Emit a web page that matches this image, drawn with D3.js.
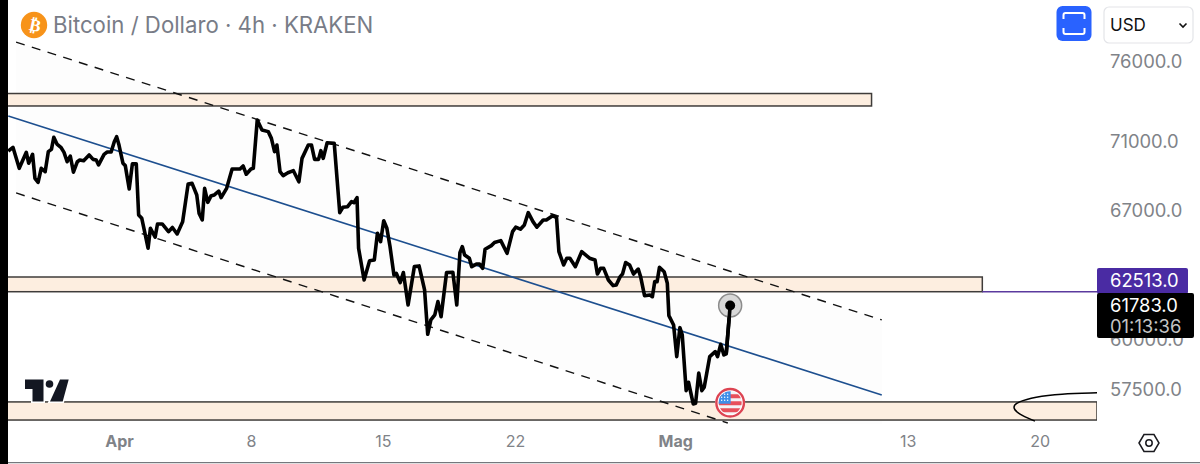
<!DOCTYPE html>
<html>
<head>
<meta charset="utf-8">
<script src="https://cdn.jsdelivr.net/npm/d3@7"></script>
<style>
  html, body { margin: 0; background: #fff; }
  svg { display: block; font-family: Inter, "Noto Sans", sans-serif; }
  .tick text { fill: #808388; }
</style>
</head>
<body>
<div id="chart"></div>
<script>
// time is in hours since 1 April, price in USD
const hours = [-141,-135,-127,-118,-115,-110,-107,-103,-99,-94,-90,-86,-83,-79,-74,-70,-66,-62,-58,-53,-50,-45,-38,-33,-29,-26,-19,-15,-10,-6,-3,0,5,8,13,17,22,25,29,33,37,40,46,49,55,63,68,74,81,88,93,99,102,106,109,113,117,121,127,130,137,144,148,154,158,162,168,171,176,182,190,194,198,201,205,209,215,222,229,233,241,245,249,254,257,260,265,274,281,285,291,296,299,303,305,312,319,325,329,333,337,341,345,350,353,358,362,368,376,382,389,393,397,402,406,410,417,425,430,434,437,440,446,449,455,459,463,466,474,478,486,494,501,505,511,516,521,527,532,540,544,552,557,560,566,570,574,581,589,599,606,609,613,617,623,629,633,638,641,645,650,655,661,664,669,676,679,682,685,688,694,698,700,706,710,714,717,722,725,731,734,738,742,745,752,759,762,766,770,773,778];
const closes = [70460,70680,69430,70380,69730,70260,68840,68610,69430,69230,70420,70560,71290,70880,70680,70380,69820,70160,69200,69820,69920,69880,70220,69960,69920,69630,70260,70400,70400,71020,71320,70820,69730,69590,68220,69690,69690,66730,66540,65700,64870,65980,65480,66220,66220,65790,66020,65660,66350,68510,68550,67870,66810,66445,68260,67450,67810,67870,68100,67720,68260,69390,69390,69390,69570,69080,69390,69430,72343,71730,71630,71220,70420,70820,69230,69000,69170,69290,68640,70020,70820,70820,69960,69960,70480,70020,70960,70920,66860,67170,67200,67490,67430,67720,64870,63140,64185,64220,65700,65230,66405,65980,64960,63410,63500,63000,63540,61815,63860,63900,62610,60290,61030,61290,61990,61200,63540,63560,61815,64620,64960,64500,64320,63860,64000,64000,63770,64810,65010,65180,65290,64590,65790,66040,65925,66165,66860,66350,66040,66445,66445,66690,66575,64680,63950,64320,64320,63860,64680,64320,64220,63460,63770,63770,63140,62840,62875,63320,63460,64080,63950,63460,63730,63320,62300,62340,62250,63050,63050,63820,63580,62965,61255,60770,59155,60630,60260,57470,57880,56820,56850,58330,57470,57640,59155,59410,59155,59780,59240,59290,61783];

const priceTicks = [76000, 71000, 67000, 60000, 57500];
const timeTicks = [0, 168, 336, 504, 708, 1004, 1172];
const timeLabels = ["Apr", "8", "15", "22", "Mag", "13", "20"];

// support / resistance boxes
const zoneTops = [73990, 63300, 56920];
const zoneBottoms = [73210, 62513, 56050];
const zoneEnds = [958, 1099, 1245];

// regression channel, [hour, price] at each end
const upperBand = [[-131, 77300], [971, 61030]];
const midLine = [[-141, 72590], [971, 57260]];
const lowerBand = [[-131, 67990], [775, 55910]];
const bandFill = [[-131, 77300], [971, 61030], [971, 53580], [-131, 67990]];

// hand drawn scribble at the right edge
const scribble = [[1245, 57360], [1198, 57310], [1166, 57165], [1144, 56920], [1137, 56680], [1144, 56350], [1166, 56000]];

const lastPrice = 61783;
const linePrice = 62513;
const flagHour = 778, flagPrice = 56880;

const width = 1200, height = 464;
const plotLeft = 8, plotRight = 1097, plotBottom = 424;

const svg = d3.select("#chart").append("svg")
  .attr("width", width)
  .attr("height", height);

const x = d3.scaleLinear().domain([0, 1245]).range([119, 1097]);
const y = d3.scaleLog().domain([76000, 57500]).range([62, 390]);

svg.append("defs").append("clipPath").attr("id", "plot")
  .append("rect")
  .attr("x", plotLeft).attr("y", 0)
  .attr("width", plotRight - plotLeft).attr("height", plotBottom);

const plot = svg.append("g").attr("clip-path", "url(#plot)");
const line = d3.line().x(d => x(d[0])).y(d => y(d[1]));

// channel background
plot.append("path")
  .attr("d", line(bandFill) + "Z")
  .attr("fill", "#fdfdfd");

// zones
plot.selectAll("rect.zone")
  .data(zoneTops)
  .enter()
  .append("rect")
  .attr("class", "zone")
  .attr("x", plotLeft - 3)
  .attr("y", d => y(d))
  .attr("width", (d, i) => x(zoneEnds[i]) - plotLeft + 3)
  .attr("height", (d, i) => y(zoneBottoms[i]) - y(d))
  .attr("fill", "#fdeee0")
  .attr("stroke", "#3f3c3a")
  .attr("stroke-width", 1.5);

plot.append("line")
  .attr("x1", x(zoneEnds[1])).attr("x2", plotRight)
  .attr("y1", y(linePrice)).attr("y2", y(linePrice))
  .attr("stroke", "#5b3a9e")
  .attr("stroke-width", 1.6);

// channel lines
[upperBand, lowerBand].forEach(b => {
  plot.append("path")
    .attr("d", line(b))
    .attr("fill", "none")
    .attr("stroke", "#111")
    .attr("stroke-width", 1.4)
    .attr("stroke-dasharray", "9 7.5");
});
plot.append("path")
  .attr("d", line(midLine))
  .attr("fill", "none")
  .attr("stroke", "#1d4f8f")
  .attr("stroke-width", 1.6);

plot.append("path")
  .attr("d", d3.line().x(d => x(d[0])).y(d => y(d[1])).curve(d3.curveBasis)(scribble))
  .attr("fill", "none")
  .attr("stroke", "#000")
  .attr("stroke-width", 1.5);

// price
plot.append("path")
  .attr("d", line(hours.map((h, i) => [h, closes[i]])))
  .attr("fill", "none")
  .attr("stroke", "#000")
  .attr("stroke-width", 3.6)
  .attr("stroke-linejoin", "round");

// last price marker
const lastX = x(hours[hours.length - 1]);
svg.append("circle")
  .attr("cx", lastX).attr("cy", y(lastPrice)).attr("r", 11.5)
  .attr("fill", "#d8d8d8").attr("stroke", "#8c8c8c").attr("stroke-width", 1.5);
svg.append("path")
  .attr("d", line(hours.slice(-2).map((h, i) => [h, closes.slice(-2)[i]])))
  .attr("stroke", "#000").attr("stroke-width", 3.6);
svg.append("circle")
  .attr("cx", lastX).attr("cy", y(lastPrice)).attr("r", 5)
  .attr("fill", "#000");

// US flag event badge
const flag = svg.append("g").attr("transform", `translate(${x(flagHour)},${y(flagPrice)})`);
flag.append("clipPath").attr("id", "flagClip").append("circle").attr("r", 11.5);
flag.append("circle").attr("r", 15).attr("fill", "#fff");
const flagIn = flag.append("g").attr("clip-path", "url(#flagClip)");
flagIn.append("rect").attr("x", -12).attr("y", -12).attr("width", 24).attr("height", 24).attr("fill", "#f4f4f6");
[-7, 0, 7].forEach(s => flagIn.append("rect")
  .attr("x", -12).attr("y", s - 1.5).attr("width", 24).attr("height", 4)
  .attr("fill", "#e8505b"));
flagIn.append("rect").attr("x", -12).attr("y", -12).attr("width", 12.5).attr("height", 13).attr("fill", "#3f8fe8");
d3.range(-9, 0, 3).forEach(a => d3.range(-9, 0, 3).forEach(b => flagIn.append("circle")
  .attr("cx", a + 0.5).attr("cy", b + 0.5).attr("r", 0.7).attr("fill", "#fff")));
flag.append("circle").attr("r", 13.8).attr("fill", "none").attr("stroke", "#dd4452").attr("stroke-width", 2.4);

// TradingView mark
const logo = svg.append("g").attr("fill", "#131722");
logo.append("path")
  .attr("d", "M25 379.5H43.5V401.5H32.5V389H25Z M60 379.5H68.7L62.7 401.5H50Z")
  .attr("stroke", "#fff").attr("stroke-width", 3).attr("paint-order", "stroke");
logo.append("circle").attr("cx", 49.5).attr("cy", 384).attr("r", 3.8);

// left edge and bottom rule
svg.append("rect").attr("width", plotLeft).attr("height", height).attr("fill", "#000");
svg.append("line")
  .attr("x1", plotLeft).attr("x2", width)
  .attr("y1", 462.7).attr("y2", 462.7)
  .attr("stroke", "#55585e").attr("stroke-width", 1);

// axes
const yAxis = d3.axisRight(y)
  .tickValues(priceTicks)
  .tickSize(0)
  .tickPadding(0)
  .tickFormat(d3.format(".1f"));
svg.append("g")
  .attr("transform", "translate(1110,0)")
  .call(yAxis)
  .call(g => g.select(".domain").remove())
  .selectAll("text")
  .style("font-size", "18.4px")
  .style("font-family", "Inter");

const xAxis = d3.axisBottom(x)
  .tickValues(timeTicks)
  .tickSize(0)
  .tickPadding(0)
  .tickFormat((d, i) => timeLabels[i]);
svg.append("g")
  .attr("transform", "translate(0,436)")
  .call(xAxis)
  .call(g => g.select(".domain").remove())
  .selectAll("text")
  .style("font-size", "16px")
  .style("font-family", "Inter")
  .style("font-weight", (d, i) => timeLabels[i] === "Apr" || timeLabels[i] === "Mag" ? 700 : 400);

// price tags
svg.append("rect").attr("x", 1097).attr("y", 268).attr("width", 91).attr("height", 26).attr("rx", 2).attr("fill", "#4a2ba3");
svg.append("text").attr("x", 1110).attr("y", 287).attr("fill", "#fff").style("font-size", "18.4px").text(d3.format(".1f")(linePrice));
svg.append("rect").attr("x", 1097).attr("y", 293).attr("width", 97).attr("height", 45).attr("rx", 2).attr("fill", "#000");
svg.append("text").attr("x", 1110).attr("y", 312).attr("fill", "#fff").style("font-size", "18.4px").text(d3.format(".1f")(lastPrice));
svg.append("text").attr("x", 1110).attr("y", 332.5).attr("fill", "#c4c4c4").style("font-size", "18.4px").text("01:13:36");

// header
svg.append("circle").attr("cx", 34).attr("cy", 25).attr("r", 13.2).attr("fill", "#f7931a");
svg.append("text")
  .attr("transform", "translate(34,31) rotate(12)")
  .attr("text-anchor", "middle")
  .attr("fill", "#fff")
  .style("font-family", "'DejaVu Sans'")
  .style("font-size", "17px")
  .style("font-weight", 700)
  .text("\u20BF");
svg.append("text")
  .attr("x", 53).attr("y", 33)
  .attr("fill", "#787c87")
  .style("font-size", "22.2px")
  .text("Bitcoin / Dollaro \u00B7 4h \u00B7 KRAKEN");

// fullscreen button
svg.append("rect").attr("x", 1056.5).attr("y", 6).attr("width", 35).attr("height", 35).attr("rx", 6).attr("fill", "#2962ff");
svg.append("path")
  .attr("d", "M1063.5 19V15Q1063.5 13 1065.5 13H1082.5Q1084.5 13 1084.5 15V19 M1063.5 28V32Q1063.5 34 1065.5 34H1082.5Q1084.5 34 1084.5 32V28")
  .attr("fill", "none").attr("stroke", "#fff").attr("stroke-width", 2);

// currency select
svg.append("rect").attr("x", 1104).attr("y", 7).attr("width", 89).attr("height", 36).attr("rx", 5)
  .attr("fill", "#fff").attr("stroke", "#e3e4e8").attr("stroke-width", 1.2);
svg.append("text").attr("x", 1110).attr("y", 31).attr("fill", "#111").style("font-size", "17px").text("USD");
svg.append("path").attr("d", "M1179.5 23.5L1183 27L1186.5 23.5").attr("fill", "none").attr("stroke", "#111").attr("stroke-width", 1.6);

// settings hexagon
svg.append("path")
  .attr("d", "M1139 443L1144 434.5H1154L1159 443L1154 451.5H1144Z")
  .attr("fill", "none").attr("stroke", "#1a1a1f").attr("stroke-width", 1.5);
svg.append("circle").attr("cx", 1149).attr("cy", 443).attr("r", 3.2)
  .attr("fill", "none").attr("stroke", "#1a1a1f").attr("stroke-width", 1.5);
</script>
</body>
</html>
